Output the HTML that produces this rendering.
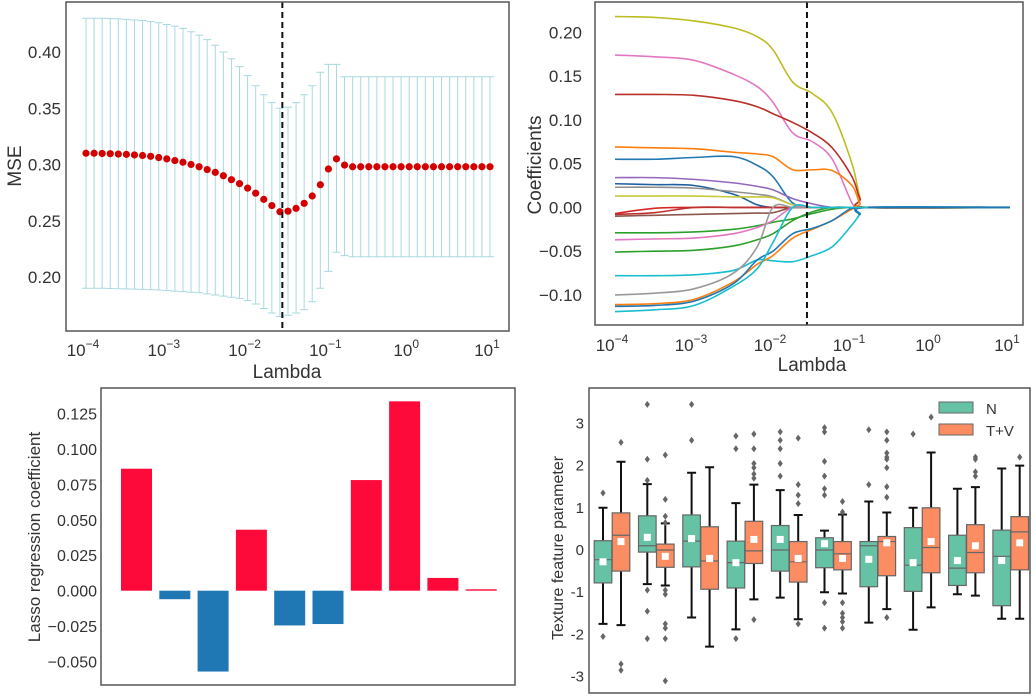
<!DOCTYPE html>
<html><head><meta charset="utf-8"><style>
html,body{margin:0;padding:0;background:#fff;}
svg{display:block;font-family:"Liberation Sans","DejaVu Sans",sans-serif;}
</style></head><body>
<svg id="fig" width="1035" height="696" viewBox="0 0 1035 696" xmlns="http://www.w3.org/2000/svg">
<g id="p1"></g>
<g id="p2"></g>
<g id="p3"></g>
<g id="p4"></g>
</svg>
<script>
const NS="http://www.w3.org/2000/svg";
// ---------- Panel 1 data ----------
const mseMean=[.310,.310,.3098,.3096,.3093,.309,.3085,.308,.3073,.3062,.305,.3035,.302,.300,.298,.2955,.293,.290,.2865,.283,.279,.2745,.269,.2635,.258,.2585,.261,.2655,.272,.282,.296,.305,.2995,.298,.298,.298,.298,.298,.298,.298,.298,.298,.298,.298,.298,.298,.298,.298,.298,.298,.298];
const mseUpper=[.430,.430,.430,.4298,.4295,.429,.4285,.428,.427,.426,.4245,.423,.421,.418,.415,.411,.406,.400,.394,.387,.379,.370,.362,.355,.350,.351,.355,.362,.370,.382,.389,.389,.378,.378,.378,.378,.378,.378,.378,.378,.378,.378,.378,.378,.378,.378,.378,.378,.378,.378,.378];
const mseLower=[.190,.190,.190,.1898,.1896,.1894,.1892,.189,.1887,.1884,.188,.1875,.187,.1865,.186,.185,.184,.183,.182,.181,.179,.176,.172,.168,.165,.166,.168,.171,.178,.190,.205,.222,.219,.218,.218,.218,.218,.218,.218,.218,.218,.218,.218,.218,.218,.218,.218,.218,.218,.218,.218];
const bestLogLambda=-1.57;
const mseYTicks=[0.20,0.25,0.30,0.35,0.40];
const logXTicks=[-4,-3,-2,-1,0,1];
// ---------- Panel 2 data ----------
const pathGrid=[-4,-3.5,-3,-2.5,-2.2,-2,-1.75,-1.5,-1.25,-1,-0.9,-0.8,1];
const coefPaths=[
[.218,.217,.213,.205,.195,.18,.143,.13,.108,.05,.012,0,0],
[.174,.172,.168,.152,.138,.12,.085,.075,.055,.005,0,0,0],
[.129,.129,.128,.122,.115,.107,.097,.085,.068,.035,.01,0,0],
[.069,.068,.067,.063,.061,.058,.043,.043,.042,.025,.005,0,0],
[.055,.055,.057,.058,.048,.035,.005,0,0,0,0,0,0],
[.034,.034,.032,.028,.024,.02,.01,.004,0,0,0,0,0],
[.027,.026,.025,.015,.003,0,0,0,0,0,0,0,0],
[.023,.023,.022,.018,.015,.012,.003,0,0,0,0,0,0],
[.013,.013,.013,.012,.012,.011,.003,0,0,0,0,0,0],
[-.007,-.001,0,0,0,0,0,0,0,0,0,0,0],
[-.008,-.006,0,0,0,0,0,0,0,0,0,0,0],
[-.01,-.009,-.008,-.007,-.0065,-.006,0,0,0,0,0,0,0],
[-.029,-.029,-.028,-.025,-.021,-.017,-.013,-.007,-.002,0,0,0,0],
[-.037,-.036,-.035,-.03,-.023,-.015,0,0,0,0,0,0,0],
[-.051,-.05,-.049,-.044,-.037,-.03,-.015,-.005,0,0,0,0,0],
[-.078,-.078,-.077,-.072,-.06,-.061,-.062,-.055,-.045,-.02,-.008,0,0],
[-.1,-.098,-.093,-.075,-.045,0,0,0,0,0,0,0,0],
[-.111,-.11,-.105,-.085,-.065,-.055,-.035,-.025,-.015,-.002,0,0,0],
[-.113,-.112,-.107,-.087,-.06,-.05,-.03,-.024,-.015,-.001,-.008,0,0],
[-.119,-.117,-.112,-.09,-.07,-.04,0,0,0,0,0,0,0]];
const coefColors=["#bcbd22","#e377c2","#b8302a","#ff7f0e","#1f77b4","#9467bd","#2060a0","#8f8f8f","#c8c83a","#d62728","#c03030","#8c564b","#2ca02c","#e377c2","#2ca02c","#17becf","#999999","#ff7f0e","#1f77b4","#17becf"];
const coefYTicks=[-0.10,-0.05,0.00,0.05,0.10,0.15,0.20];
// ---------- Panel 3 data ----------
const lassoCoefs=[.086,-.006,-.057,.043,-.0245,-.0235,.078,.1335,.009,.001];
const lassoYTicks=[-0.050,-0.025,0.000,0.025,0.050,0.075,0.100,0.125];
// ---------- Panel 4 data ----------
const groupsN=[
{q1:-.78,q3:.22,med:-.23,mean:-.28,lo:-1.75,hi:1.0,out:[1.35,-2.05]},
{q1:-.05,q3:.81,med:.1,mean:.3,lo:-.81,hi:1.56,out:[3.45,2.15,1.65,-.95,-1.45,-2.1]},
{q1:-.4,q3:.83,med:.21,mean:.27,lo:-1.6,hi:1.83,out:[3.45,2.6]},
{q1:-.9,q3:.21,med:-.3,mean:-.3,lo:-1.88,hi:1.11,out:[2.7,2.4,-2.1]},
{q1:-.5,q3:.58,med:0,mean:.25,lo:-1.13,hi:1.42,out:[2.8,2.6,2.4,2.05,1.75]},
{q1:-.42,q3:.29,med:0,mean:.15,lo:-1.0,hi:.46,out:[2.9,2.8,2.1,1.75,1.45,1.3,-1.25,-1.85]},
{q1:-.87,q3:.2,med:.1,mean:-.22,lo:-1.72,hi:1.15,out:[2.85,1.55]},
{q1:-.98,q3:.53,med:-.36,mean:-.3,lo:-1.89,hi:1.0,out:[2.75]},
{q1:-.84,q3:.35,med:-.43,mean:-.25,lo:-1.05,hi:1.45,out:[]},
{q1:-1.32,q3:.47,med:-.15,mean:-.25,lo:-1.63,hi:1.93,out:[]}];
const groupsTV=[
{q1:-.5,q3:.88,med:.35,mean:.2,lo:-1.78,hi:2.09,out:[2.55,-2.7,-2.85]},
{q1:-.41,q3:.14,med:0,mean:-.15,lo:-.84,hi:.63,out:[2.25,1.2,.8,.65,-.95,-1.05,-1.75,-1.85,-2.1,-3.1]},
{q1:-.93,q3:.55,med:-.26,mean:-.2,lo:-2.29,hi:1.96,out:[]},
{q1:-.32,q3:.68,med:-.02,mean:.25,lo:-1.17,hi:1.55,out:[2.75,2.4,2.05,1.95,1.8,1.7,-1.65]},
{q1:-.76,q3:.2,med:-.28,mean:-.2,lo:-1.64,hi:.83,out:[2.65,1.55,1.3,1.1,-1.75]},
{q1:-.47,q3:.2,med:-.09,mean:-.2,lo:-1.03,hi:.84,out:[1.15,.9,-1.25,-1.5,-1.6,-1.7,-1.85]},
{q1:-.61,q3:.32,med:.2,mean:.17,lo:-1.4,hi:.89,out:[2.8,2.6,2.3,2.2,2.15,1.95,1.5,1.25,-1.6]},
{q1:-.54,q3:1.0,med:.06,mean:.2,lo:-1.36,hi:2.31,out:[3.15]},
{q1:-.54,q3:.6,med:-.06,mean:.1,lo:-1.08,hi:1.49,out:[2.2,2.15,1.85,1.75]},
{q1:-.47,q3:.79,med:.43,mean:.17,lo:-1.63,hi:2.0,out:[2.2]}];
const boxYTicks=[-3,-2,-1,0,1,2,3];

function mk(tag,attrs,parent){const e=document.createElementNS(NS,tag);for(const k in attrs)e.setAttribute(k,attrs[k]);parent.appendChild(e);return e;}
function logTick(g,x,y,exp){const t=mk('text',{x:x,y:y,'text-anchor':'middle','font-size':17,fill:'#333'},g);t.textContent='10';const s=mk('tspan',{dy:-8,'font-size':12},t);s.textContent=(exp<0?'\u2212':'')+Math.abs(exp);return t;}

// ===== Panel 1 =====
(function(){
const g=document.getElementById('p1');
const X=l=>86+80.8*(l+4), Y=v=>164.5-(v-0.30)*1125;
for(let i=0;i<mseMean.length;i++){
 const l=-4+i*0.1, x=X(l);
 const b=mk('path',{d:`M${x},${Y(mseUpper[i])}V${Y(mseLower[i])}M${x-4},${Y(mseUpper[i])}h8M${x-4},${Y(mseLower[i])}h8`,stroke:'#a8d8e0','stroke-width':1,fill:'none'},g);
 
 
}
for(let i=0;i<mseMean.length;i++){
 const c=mk('circle',{cx:X(-4+i*0.1),cy:Y(mseMean[i]),r:3.6,fill:'#d40000'},g);
 
 
}
const d=mk('line',{x1:X(bestLogLambda),x2:X(bestLogLambda),y1:2,y2:331,stroke:'#111','stroke-width':2,'stroke-dasharray':'6,4'},g);


const f=mk('rect',{x:66,y:2,width:443,height:329,fill:'none',stroke:'#555','stroke-width':1.5},g);


mseYTicks.forEach(v=>{const t=mk('text',{x:61,y:Y(v)+6,'text-anchor':'end','font-size':17,fill:'#333'},g);t.textContent=v.toFixed(2);
 
 });
logXTicks.forEach(e=>{const t=logTick(g,X(e)-3,356,e);
 
 });
const xl=mk('text',{x:287,y:378,'text-anchor':'middle','font-size':19,fill:'#333'},g);xl.textContent='Lambda';


const yl=mk('text',{x:21,y:166,'text-anchor':'middle','font-size':19,fill:'#333',transform:'rotate(-90 21 166)'},g);yl.textContent='MSE';


})();

// ===== Panel 2 =====
(function(){
const g=document.getElementById('p2');
const X=l=>615+79*(l+4), Y=v=>207.4-v*875.6;
function cr(pts){let d=`M${pts[0][0]},${pts[0][1]}`;for(let i=0;i<pts.length-1;i++){const p0=pts[Math.max(0,i-1)],p1=pts[i],p2=pts[i+1],p3=pts[Math.min(pts.length-1,i+2)];
 const t=(p2[0]-p1[0])<200?1/6:0;const c1=[p1[0]+(p2[0]-p0[0])*t,p1[1]+(p2[1]-p0[1])*t],c2=[p2[0]-(p3[0]-p1[0])*t,p2[1]-(p3[1]-p1[1])*t];
 d+=`C${c1[0]},${c1[1]} ${c2[0]},${c2[1]} ${p2[0]},${p2[1]}`;}return d;}
coefPaths.forEach((vals,k)=>{
 const pts=vals.map((v,i)=>[X(pathGrid[i]),Y(v)]);
 const p=mk('path',{d:cr(pts),fill:'none',stroke:coefColors[k],'stroke-width':1.6},g);
 
 
});
const z=mk('line',{x1:X(-0.8),x2:X(1),y1:Y(0),y2:Y(0),stroke:'#1f77b4','stroke-width':2},g);


const d=mk('line',{x1:X(bestLogLambda),x2:X(bestLogLambda),y1:2,y2:325,stroke:'#111','stroke-width':2,'stroke-dasharray':'6,4'},g);


const f=mk('rect',{x:595,y:2,width:428,height:323,fill:'none',stroke:'#555','stroke-width':1.5},g);


coefYTicks.forEach(v=>{const t=mk('text',{x:582,y:Y(v)+6,'text-anchor':'end','font-size':17,fill:'#333'},g);t.textContent=(v<0?'\u2212':'')+Math.abs(v).toFixed(2);
 
 });
logXTicks.forEach(e=>{const t=logTick(g,X(e)-3,351,e);
 
 });
const xl=mk('text',{x:812,y:371,'text-anchor':'middle','font-size':19,fill:'#333'},g);xl.textContent='Lambda';


const yl=mk('text',{x:541,y:165,'text-anchor':'middle','font-size':19,fill:'#333',transform:'rotate(-90 541 165)'},g);yl.textContent='Coefficients';


})();

// ===== Panel 3 =====
(function(){
const g=document.getElementById('p3');
const Y=v=>590.7-v*1418.4, X=i=>136.5+38.3*i;
lassoCoefs.forEach((v,i)=>{
 const y0=Math.min(Y(v),Y(0)),h=Math.max(Math.abs(Y(v)-Y(0)),1);
 const r=mk('rect',{x:X(i)-15.5,y:y0,width:31,height:h,fill:v>=0?'#fe0a3a':'#1f77b4'},g);
 
 
});
const f=mk('rect',{x:101,y:388,width:414,height:297,fill:'none',stroke:'#555','stroke-width':1.5},g);


lassoYTicks.forEach(v=>{const t=mk('text',{x:97,y:Y(v)+6,'text-anchor':'end','font-size':16,fill:'#333'},g);t.textContent=(v<0?'\u2212':'')+Math.abs(v).toFixed(3);
 
 });
const yl=mk('text',{x:40,y:537,'text-anchor':'middle','font-size':17,fill:'#333',transform:'rotate(-90 40 537)'},g);yl.textContent='Lasso regression coefficient';


})();

// ===== Panel 4 =====
(function(){
const g=document.getElementById('p4');
const Y=v=>550-v*42.2, W=17.6;
function box(s,cx,color){
 const wk=mk('path',{d:`M${cx},${Y(s.hi)}V${Y(s.q3)}M${cx},${Y(s.q1)}V${Y(s.lo)}M${cx-4.5},${Y(s.hi)}h9M${cx-4.5},${Y(s.lo)}h9`,stroke:'#111','stroke-width':2,fill:'none'},g);
 
 
 const r=mk('rect',{x:cx-W/2,y:Y(s.q3),width:W,height:Y(s.q1)-Y(s.q3),fill:color,stroke:'#666','stroke-width':1.2},g);
 
 
 const m=mk('line',{x1:cx-W/2,x2:cx+W/2,y1:Y(s.med),y2:Y(s.med),stroke:'#666','stroke-width':1.2},g);
 
 
 const mn=mk('rect',{x:cx-3.5,y:Y(s.mean)-3.5,width:7,height:7,fill:'#fff'},g);
 
 
 s.out.forEach(o=>{const y=Y(o);const p=mk('path',{d:`M${cx},${y-3.5}L${cx+2.6},${y}L${cx},${y+3.5}L${cx-2.6},${y}Z`,fill:'#666'},g);
  
  });
}
groupsN.forEach((s,i)=>box(s,603+44.3*i,'#66c2a5'));
groupsTV.forEach((s,i)=>box(s,621+44.3*i,'#fc8d62'));
const f=mk('rect',{x:589,y:388,width:441,height:305,fill:'none',stroke:'#555','stroke-width':1.5},g);


boxYTicks.forEach(v=>{const t=mk('text',{x:584,y:Y(v)+5,'text-anchor':'end','font-size':15,fill:'#333'},g);t.textContent=String(v);
 
 });
const yl=mk('text',{x:563,y:548,'text-anchor':'middle','font-size':16,fill:'#333',transform:'rotate(-90 563 548)'},g);yl.textContent='Texture feature parameter';


const l1=mk('rect',{x:939,y:402,width:34,height:11,fill:'#66c2a5',stroke:'#666','stroke-width':1},g);


const t1=mk('text',{x:986,y:414,'font-size':15,fill:'#333'},g);t1.textContent='N';


const l2=mk('rect',{x:939,y:424,width:34,height:11,fill:'#fc8d62',stroke:'#666','stroke-width':1},g);


const t2=mk('text',{x:986,y:436,'font-size':15,fill:'#333'},g);t2.textContent='T+V';


})();
</script>
</body></html>
